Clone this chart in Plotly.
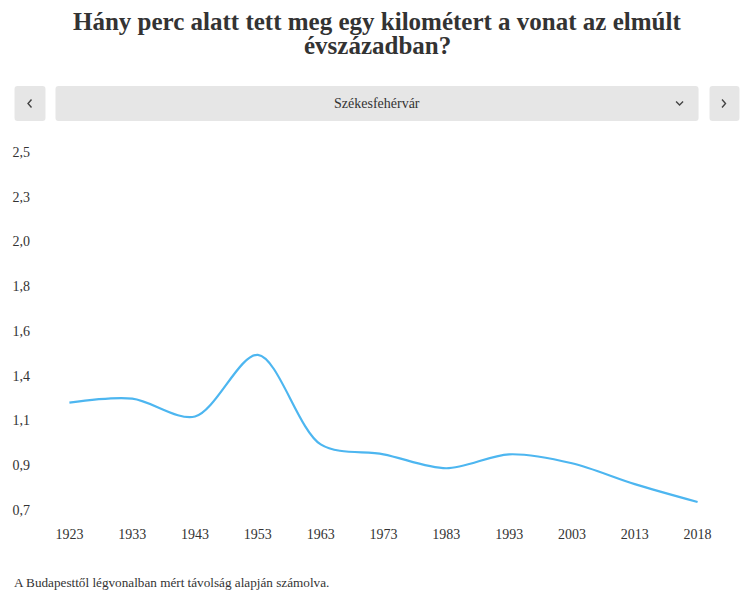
import numpy as np
import plotly.graph_objects as go

years = ["1923", "1933", "1943", "1953", "1963", "1973", "1983", "1993", "2003", "2013", "2018"]
minutes_per_km = [1.24, 1.26, 1.17, 1.48, 1.03, 0.98, 0.91, 0.98, 0.935, 0.83, 0.74]

y_tick_text = ["0,7", "0,9", "1,1", "1,4", "1,6", "1,8", "2,0", "2,3", "2,5"]
city = "Székesfehérvár"
title_lines = ["Hány perc alatt tett meg egy kilométert a vonat az elmúlt", "évszázadban?"]
note = "A Budapesttől légvonalban mért távolság alapján számolva."

# the page body has an 8px margin, so the figure starts at (8, 8)
OFF = 8
W, H = 740, 582
L, R, T, B = 29.5, 18.5, 144, 80
PW, PH = W - L - R, H - T - B


# page pixel -> paper helpers for the decoration around the chart
def px(x):
    return (x - OFF - L) / PW


def py(y):
    return (H - B - (y - OFF)) / PH


def rounded_rect(x0, y0, x1, y1, r=3):
    a, b, c, d = px(x0), px(x1), py(y0), py(y1)
    rx, ry = r / PW, r / PH
    return (f"M {a+rx},{c} L {b-rx},{c} Q {b},{c} {b},{c-ry} "
            f"L {b},{d+ry} Q {b},{d} {b-rx},{d} L {a+rx},{d} "
            f"Q {a},{d} {a},{d+ry} L {a},{c-ry} Q {a},{c} {a+rx},{c} Z")


def polyline(points):
    return "M " + " L ".join(f"{px(x)},{py(y)}" for x, y in points)


fig = go.Figure()
fig.add_trace(go.Scatter(
    x=years, y=minutes_per_km, mode="lines",
    line=dict(color="#4db6f0", width=2.2, shape="spline", smoothing=0.9),
    hoverinfo="x+y", showlegend=False,
))

shapes = []
for x0, x1 in [(14, 45), (55, 699), (710, 740)]:
    shapes.append(dict(type="path", xref="paper", yref="paper",
                       path=rounded_rect(x0, 86, x1, 121),
                       fillcolor="#e6e6e6", line=dict(width=0), layer="below"))
chev = dict(color="#444", width=1.4)
shapes.append(dict(type="path", xref="paper", yref="paper",
                   path=polyline([(31, 99.5), (27.5, 103.5), (31, 107.5)]), line=chev))
shapes.append(dict(type="path", xref="paper", yref="paper",
                   path=polyline([(722.5, 99.5), (726, 103.5), (722.5, 107.5)]), line=chev))
shapes.append(dict(type="path", xref="paper", yref="paper",
                   path=polyline([(676.5, 101.5), (680, 105), (683.5, 101.5)]), line=chev))

title_font = dict(family="Liberation Serif", size=25, color="#333")
annotations = [
    dict(text=f"<b>{title_lines[0]}</b>", xref="paper", yref="paper", x=px(377), y=py(21.5),
         xanchor="center", yanchor="middle", showarrow=False, font=title_font),
    dict(text=f"<b>{title_lines[1]}</b>", xref="paper", yref="paper", x=px(377), y=py(45),
         xanchor="center", yanchor="middle", showarrow=False, font=title_font),
    dict(text=city, xref="paper", yref="paper", x=px(377), y=py(104),
         xanchor="center", yanchor="middle", showarrow=False,
         font=dict(family="Liberation Serif", size=14, color="#333")),
    dict(text=note, xref="paper", yref="paper", x=px(11), y=py(582),
         xanchor="left", yanchor="middle", showarrow=False,
         font=dict(family="Liberation Serif", size=13.2, color="#333")),
]

fig.update_layout(
    width=W, height=H,
    margin=dict(l=L, r=R, t=T, b=B, autoexpand=False),
    paper_bgcolor="white", plot_bgcolor="white",
    font=dict(family="Liberation Serif", size=14, color="#333"),
    shapes=shapes, annotations=annotations,
    xaxis=dict(type="category", range=[-0.5, len(years) - 0.5], showgrid=False,
               zeroline=False, showline=False, ticks="", ticklabelstandoff=14,
               automargin=False, fixedrange=True),
    yaxis=dict(range=[0.7, 2.5], tickvals=np.linspace(0.7, 2.5, 9), ticktext=y_tick_text,
               showgrid=False, zeroline=False, showline=False, ticks="",
               ticklabelstandoff=7, automargin=False, fixedrange=True),
)

fig.write_html("out.html")
